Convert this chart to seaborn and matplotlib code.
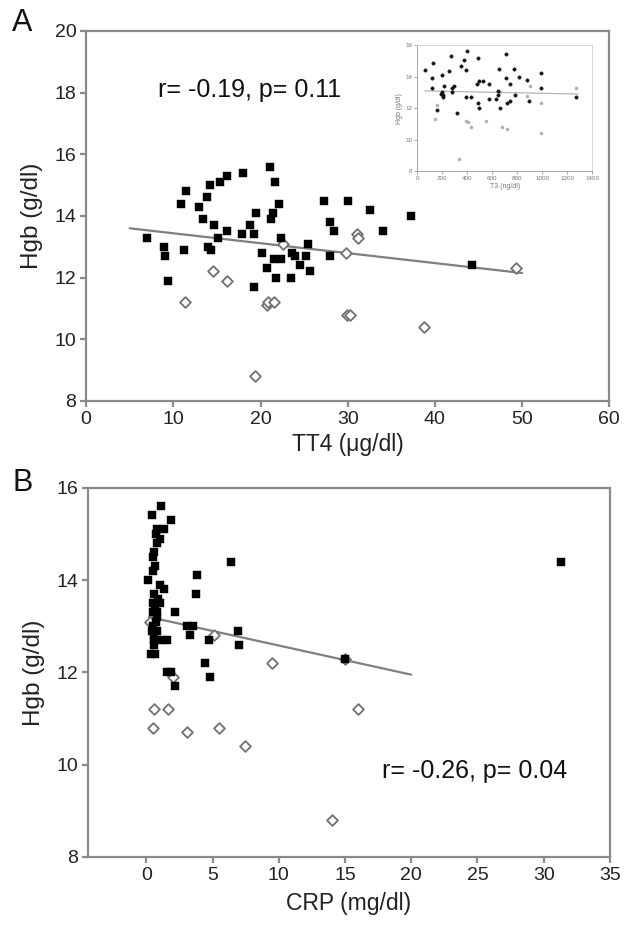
import numpy as np
import pandas as pd
import matplotlib
matplotlib.use("Agg")
import matplotlib.pyplot as plt
import seaborn as sns

# ---- panel A: TT4 vs Hgb ----
tt4_filled = [7.0, 8.9, 9.1, 9.35, 10.9, 11.45, 11.2, 12.9, 13.4, 13.9, 14.0, 14.35, 14.25,
              15.3, 16.1, 14.7, 15.1, 16.1, 18.0, 17.9, 18.8, 19.2, 19.5, 19.2, 20.2, 20.7,
              21.1, 21.7, 22.1, 21.4, 21.2, 21.5, 22.3, 21.8, 22.3, 23.5, 23.6, 23.9, 24.5,
              25.2, 25.4, 25.7, 27.3, 28.0, 28.4, 28.0, 30.0, 32.6, 34.1, 37.3, 44.2]
hgb_a_filled = [13.3, 13.0, 12.7, 11.9, 14.4, 14.8, 12.9, 14.3, 13.9, 14.6, 13.0, 12.9, 15.0,
                15.1, 15.3, 13.7, 13.3, 13.5, 15.4, 13.4, 13.7, 13.4, 14.1, 11.7, 12.8, 12.3,
                15.6, 15.1, 14.4, 14.1, 13.9, 12.6, 12.6, 12.0, 13.3, 12.0, 12.8, 12.7, 12.4,
                12.7, 13.1, 12.2, 14.5, 13.8, 13.5, 12.7, 14.5, 14.2, 13.5, 14.0, 12.4]
tt4_open = [11.3, 14.5, 16.1, 19.4, 20.7, 20.9, 21.5, 22.6, 29.8, 29.9, 30.3, 31.1, 31.2, 38.8, 49.3]
hgb_a_open = [11.2, 12.2, 11.9, 8.8, 11.1, 11.2, 11.2, 13.1, 12.8, 10.8, 10.8, 13.4, 13.3, 10.4, 12.3]
trend_a_x = [5.0, 50.0]
trend_a_y = [13.6, 12.15]

# ---- inset: T3 vs Hgb ----
t3_filled = [60, 125, 117, 117, 201, 214, 196, 188, 206, 206, 159, 274, 256, 295, 282, 277,
             321, 350, 373, 397, 392, 392, 433, 486, 480, 491, 486, 496, 530, 574, 574, 634,
             655, 647, 647, 663, 707, 707, 739, 720, 739, 778, 783, 812, 877, 895, 992, 992, 1274]
hgb_i_filled = [14.4, 14.85, 13.9, 13.3, 14.1, 13.4, 13.0, 12.9, 12.85, 12.7, 11.9, 15.35, 14.35,
                13.4, 13.3, 13.0, 11.7, 14.7, 15.05, 15.65, 14.45, 12.7, 12.7, 15.2, 13.55, 13.75,
                12.3, 12.0, 13.75, 13.55, 12.6, 12.6, 14.5, 13.1, 12.85, 12.0, 15.45, 13.95, 13.55,
                12.35, 12.45, 14.5, 12.85, 14.0, 13.8, 12.45, 14.25, 13.3, 12.7]
t3_open = [144, 159, 394, 407, 433, 548, 679, 720, 334, 900, 882, 992, 992, 1274, 660]
hgb_i_open = [11.3, 12.2, 11.2, 11.1, 10.8, 11.2, 10.8, 10.7, 8.75, 13.4, 12.8, 12.3, 10.4, 13.3, 13.0]
trend_i_x = [60, 1290]
trend_i_y = [13.1, 12.9]

# ---- panel B: CRP vs Hgb ----
crp_filled = [1.14, 0.46, 0.77, 1.3, 1.85, 0.83, 0.6, 0.5, 0.68, 0.5, 0.15, 1.0, 1.35, 0.6,
              0.5, 1.0, 0.68, 0.83, 2.15, 0.83, 0.5, 0.46, 0.6, 1.14, 1.55, 0.6, 0.37, 0.68,
              1.55, 1.9, 2.2, 3.1, 3.5, 3.3, 3.8, 3.75, 6.4, 4.4, 4.7, 4.8, 6.9, 7.0, 15.0, 31.3,
              0.7, 0.9, 0.6, 1.0, 0.5, 0.8, 0.7]
hgb_b_filled = [15.6, 15.4, 15.1, 15.1, 15.3, 14.8, 14.6, 14.5, 14.3, 14.2, 14.0, 13.9, 13.8, 13.7,
                13.5, 13.5, 13.4, 13.3, 13.3, 13.2, 13.0, 12.9, 12.7, 12.7, 12.7, 12.6, 12.4, 12.4,
                12.0, 12.0, 11.7, 13.0, 13.0, 12.8, 14.1, 13.7, 14.4, 12.2, 12.7, 11.9, 12.9, 12.6,
                12.3, 14.4, 13.1, 13.6, 12.8, 14.9, 13.3, 12.9, 15.0]
crp_open = [0.6, 1.6, 0.52, 3.08, 5.5, 7.45, 9.5, 5.1, 14.0, 16.0, 0.3, 2.0, 15.0]
hgb_b_open = [11.2, 11.2, 10.8, 10.7, 10.8, 10.4, 12.2, 12.8, 8.8, 11.2, 13.1, 11.9, 12.3]
trend_b_x = [0.2, 20.0]
trend_b_y = [13.2, 11.95]

sns.set_style("white")
plt.rcParams["font.family"] = ["Liberation Sans", "DejaVu Sans"]

spine_gray = "#8a8a8a"
line_gray = "#7f7f7f"
open_gray = "#707070"


def style_axes(ax, tick_size, spine_color=spine_gray, lw=1.6):
    for s in ax.spines.values():
        s.set_visible(True)
        s.set_color(spine_color)
        s.set_linewidth(lw)
    ax.tick_params(axis="both", which="both", direction="out", length=4,
                   width=lw, color=spine_color, labelsize=tick_size,
                   labelcolor="#222222", pad=3, left=True, bottom=True)


def draw_panel(ax, xf, yf, xo, yo, tx, ty, s_sq, s_d, lw_d, lw_line):
    sns.lineplot(x=tx, y=ty, ax=ax, color=line_gray, linewidth=lw_line, zorder=1)
    sns.scatterplot(x=xo, y=yo, ax=ax, marker="D", s=s_d, facecolor="white",
                    edgecolor=open_gray, linewidth=lw_d, zorder=2)
    sns.scatterplot(x=xf, y=yf, ax=ax, marker="s", s=s_sq, color="black",
                    edgecolor="black", linewidth=0.3, zorder=3)


fig = plt.figure(figsize=(6.38, 9.38), dpi=100)

# panel A
ax_a = fig.add_axes([0.135, 0.5725, 0.82, 0.3945])
draw_panel(ax_a, tt4_filled, hgb_a_filled, tt4_open, hgb_a_open,
           trend_a_x, trend_a_y, 30, 30, 1.3, 1.6)
ax_a.set_xlim(0, 60)
ax_a.set_ylim(8, 20)
ax_a.set_xticks(range(0, 61, 10))
ax_a.set_yticks(range(8, 21, 2))
style_axes(ax_a, 14)
ax_a.set_xlabel("TT4 (\u03bcg/dl)", fontsize=16.5, color="#222222", labelpad=4)
ax_a.set_ylabel("Hgb (g/dl)", fontsize=17.5, color="#222222", labelpad=8)
ax_a.text(18.8, 18.1, "r= -0.19, p= 0.11", fontsize=18, ha="center", va="center",
          color="#111111")
fig.text(0.019, 0.975, "A", fontsize=22, ha="left", va="center", color="#111111")

# inset (small round dots)
ax_i = fig.add_axes([0.654, 0.8177, 0.274, 0.134])
sns.lineplot(x=trend_i_x, y=trend_i_y, ax=ax_i, color="#b5b5b5", linewidth=0.9, zorder=1)
sns.scatterplot(x=t3_open, y=hgb_i_open, ax=ax_i, marker="o", s=5, color="#b0b0b0",
                edgecolor="#b0b0b0", linewidth=0.3, zorder=2)
sns.scatterplot(x=t3_filled, y=hgb_i_filled, ax=ax_i, marker="o", s=6, color="#111111",
                edgecolor="#111111", linewidth=0.3, zorder=3)
ax_i.set_xlim(0, 1400)
ax_i.set_ylim(8, 16)
ax_i.set_xticks(range(0, 1401, 200))
ax_i.set_yticks(range(8, 17, 2))
style_axes(ax_i, 4.5, spine_color="#9a9a9a", lw=0.6)
ax_i.tick_params(length=2, labelcolor="#777777", pad=1.5)
ax_i.spines["top"].set_color("#d0d0d0")
ax_i.spines["right"].set_color("#d0d0d0")
ax_i.set_xlabel("T3 (ng/dl)", fontsize=5, color="#777777", labelpad=1.5)
ax_i.set_ylabel("Hgb (g/dl)", fontsize=5, color="#777777", labelpad=2)

# panel B
ax_b = fig.add_axes([0.138, 0.0864, 0.818, 0.3936])
draw_panel(ax_b, crp_filled, hgb_b_filled, crp_open, hgb_b_open,
           trend_b_x, trend_b_y, 30, 30, 1.3, 1.6)
ax_b.set_xlim(-4.4, 35)
ax_b.set_ylim(8, 16)
ax_b.set_xticks(range(0, 36, 5))
ax_b.set_yticks(range(8, 17, 2))
style_axes(ax_b, 14)
ax_b.set_xlabel("CRP (mg/dl)", fontsize=16.5, color="#222222", labelpad=6)
ax_b.set_ylabel("Hgb (g/dl)", fontsize=17.5, color="#222222", labelpad=8)
ax_b.text(24.8, 9.86, "r= -0.26, p= 0.04", fontsize=18, ha="center", va="center",
          color="#111111")
fig.text(0.019, 0.485, "B", fontsize=22, ha="left", va="center", color="#111111")

fig.savefig("out.png", dpi=100, facecolor="white")
plt.close(fig)
